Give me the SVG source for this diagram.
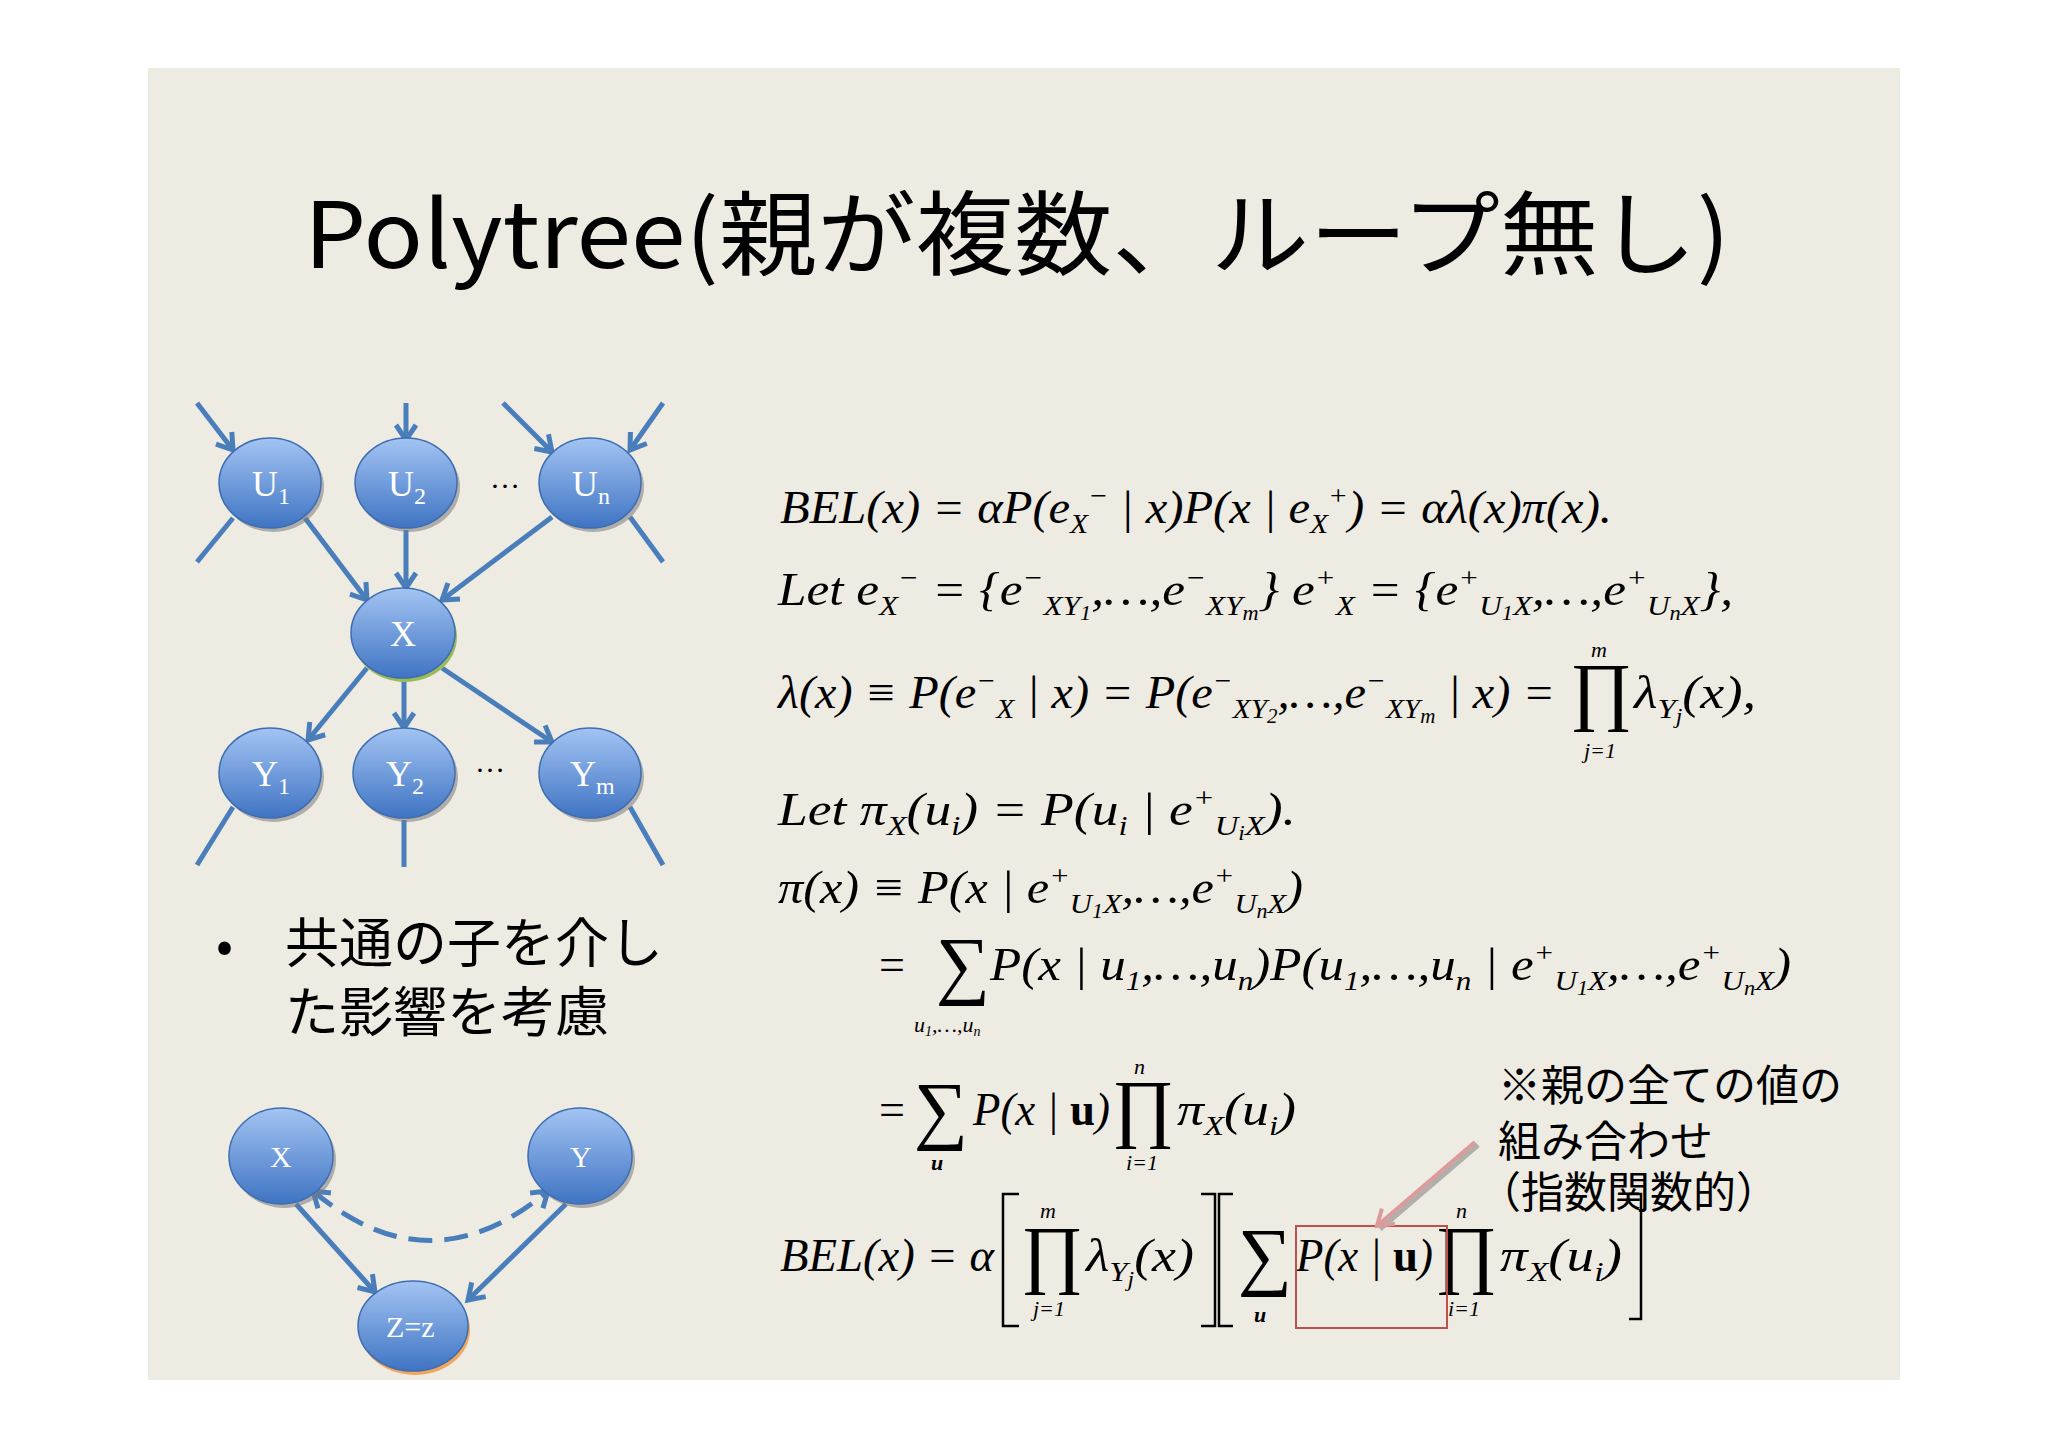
<svg xmlns="http://www.w3.org/2000/svg" width="2048" height="1448" viewBox="0 0 2048 1448">
<defs>
<linearGradient id="ng" x1="0" y1="0" x2="0" y2="1"><stop offset="0" stop-color="#a3c4f3"/><stop offset="1" stop-color="#3f74c3"/></linearGradient>
<marker id="ah" markerUnits="userSpaceOnUse" markerWidth="40" markerHeight="40" viewBox="-20 -20 40 40" refX="0" refY="0" orient="auto-start-reverse"><path d="M-15,-10 L0,0 L-15,10" fill="none" stroke="#4a7ebb" stroke-width="5"/></marker>
<marker id="pah" markerUnits="userSpaceOnUse" markerWidth="40" markerHeight="40" viewBox="-20 -20 40 40" refX="0" refY="0" orient="auto"><path d="M-15,-10 L0,0 L-15,10" fill="none" stroke="#dc9a9a" stroke-width="4"/></marker>
<style>
.nd{fill:url(#ng);stroke:#3d6db0;stroke-width:1.5}
.sh{fill:#7a7a7a;opacity:.55}
.nl{font-family:"Liberation Serif",serif;font-size:36px;fill:#fff}
.nl2{font-family:"Liberation Serif",serif;font-size:30px;fill:#fff}
.c{stroke:#4a7ebb;stroke-width:5;fill:none}
.eq{font-family:"Liberation Serif",serif;font-style:italic;font-size:46px;fill:#000}
.up{font-style:normal}
.b{font-style:normal;font-weight:bold}
.s{font-size:28px;baseline-shift:-10px}
.p{font-size:28px;baseline-shift:18px}
.ss{font-size:20px;baseline-shift:-5px}
.big{font-family:"Liberation Serif",serif;font-size:76px;fill:#000}
.lim{font-family:"Liberation Serif",serif;font-style:italic;font-size:22px;fill:#000}
.jp{font-family:"Noto Sans CJK JP",sans-serif;fill:#000}
.br{stroke:#000;stroke-width:2.5;fill:none}
</style>
</defs>
<rect width="2048" height="1448" fill="#fff"/>
<rect x="148" y="68" width="1752" height="1312" fill="#eeebe3"/>
<text class="jp" x="304" y="268" font-size="92" textLength="1426" lengthAdjust="spacingAndGlyphs">Polytree(親が複数、ループ無し)</text>

<g id="connectors">
<line class="c" x1="197" y1="403" x2="233" y2="450" marker-end="url(#ah)"/>
<line class="c" x1="233" y1="518" x2="197" y2="562"/>
<line class="c" x1="406" y1="403" x2="406" y2="440" marker-end="url(#ah)"/>
<line class="c" x1="503" y1="403" x2="552" y2="452" marker-end="url(#ah)"/>
<line class="c" x1="663" y1="403" x2="630" y2="450" marker-end="url(#ah)"/>
<line class="c" x1="630" y1="517" x2="663" y2="562"/>
<line class="c" x1="305" y1="518" x2="367" y2="600" marker-end="url(#ah)"/>
<line class="c" x1="406" y1="530" x2="406" y2="588" marker-end="url(#ah)"/>
<line class="c" x1="552" y1="517" x2="442" y2="600" marker-end="url(#ah)"/>
<line class="c" x1="367" y1="668" x2="308" y2="740" marker-end="url(#ah)"/>
<line class="c" x1="404" y1="680" x2="404" y2="728" marker-end="url(#ah)"/>
<line class="c" x1="442" y1="668" x2="552" y2="742" marker-end="url(#ah)"/>
<line class="c" x1="233" y1="807" x2="197" y2="865"/>
<line class="c" x1="404" y1="820" x2="404" y2="867"/>
<line class="c" x1="630" y1="807" x2="663" y2="865"/>
<line class="c" x1="296" y1="1204" x2="375" y2="1292" marker-end="url(#ah)"/>
<line class="c" x1="566" y1="1204" x2="468" y2="1300" marker-end="url(#ah)"/>
<path class="c" d="M313,1191 Q430,1290 548,1191" stroke-width="6" stroke-dasharray="24 12" marker-start="url(#ah)" marker-end="url(#ah)"/>
</g>

<g id="U1"><ellipse class="sh" cx="273" cy="487" rx="51" ry="45"/><ellipse class="nd" cx="270" cy="483" rx="51" ry="45"/><text class="nl" x="252" y="496">U<tspan font-size="24" dy="8">1</tspan></text></g>
<g id="U2"><ellipse class="sh" cx="409" cy="487" rx="51" ry="45"/><ellipse class="nd" cx="406" cy="483" rx="51" ry="45"/><text class="nl" x="388" y="496">U<tspan font-size="24" dy="8">2</tspan></text></g>
<g id="Un"><ellipse class="sh" cx="593" cy="487" rx="51" ry="45"/><ellipse class="nd" cx="590" cy="483" rx="51" ry="45"/><text class="nl" x="572" y="496">U<tspan font-size="24" dy="8">n</tspan></text></g>
<g id="X"><ellipse cx="405" cy="637" rx="52" ry="45" fill="#9bbb59"/><ellipse class="nd" cx="403" cy="633" rx="52" ry="45"/><text class="nl" x="390" y="646">X</text></g>
<g id="Y1"><ellipse class="sh" cx="273" cy="777" rx="51" ry="45"/><ellipse class="nd" cx="270" cy="773" rx="51" ry="45"/><text class="nl" x="252" y="786">Y<tspan font-size="24" dy="8">1</tspan></text></g>
<g id="Y2"><ellipse class="sh" cx="407" cy="777" rx="51" ry="45"/><ellipse class="nd" cx="404" cy="773" rx="51" ry="45"/><text class="nl" x="386" y="786">Y<tspan font-size="24" dy="8">2</tspan></text></g>
<g id="Ym"><ellipse class="sh" cx="593" cy="777" rx="51" ry="45"/><ellipse class="nd" cx="590" cy="773" rx="51" ry="45"/><text class="nl" x="570" y="786">Y<tspan font-size="24" dy="8">m</tspan></text></g>
<text x="490" y="488" font-family="Liberation Serif" font-size="30">…</text>
<text x="475" y="772" font-family="Liberation Serif" font-size="30">…</text>

<g id="bX"><ellipse class="sh" cx="284" cy="1160" rx="52" ry="48"/><ellipse class="nd" cx="281" cy="1156" rx="52" ry="48"/><text class="nl2" x="270" y="1167">X</text></g>
<g id="bY"><ellipse class="sh" cx="583" cy="1160" rx="52" ry="48"/><ellipse class="nd" cx="580" cy="1156" rx="52" ry="48"/><text class="nl2" x="570" y="1167">Y</text></g>
<g id="Z"><ellipse cx="415" cy="1330" rx="55" ry="45" fill="#f0a860"/><ellipse class="nd" cx="413" cy="1326" rx="55" ry="45"/><text class="nl2" x="386" y="1337">Z=z</text></g>

<text class="jp" x="216" y="963" font-size="50">•</text>
<text class="jp" x="285" y="963" font-size="54">共通の子を介し</text>
<text class="jp" x="285" y="1032" font-size="54">た影響を考慮</text>

<!-- equations -->
<text class="eq" x="780" y="523" textLength="832" lengthAdjust="spacingAndGlyphs">BEL(x) = αP(e<tspan class="s">X</tspan><tspan class="p">−</tspan> | x)P(x | e<tspan class="s">X</tspan><tspan class="p">+</tspan>) = αλ(x)π(x).</text>
<text class="eq" x="778" y="605" textLength="955" lengthAdjust="spacingAndGlyphs">Let e<tspan class="s">X</tspan><tspan class="p">−</tspan> = {e<tspan class="p">−</tspan><tspan class="s">XY<tspan class="ss">1</tspan></tspan>,…,e<tspan class="p">−</tspan><tspan class="s">XY<tspan class="ss">m</tspan></tspan>}     e<tspan class="p">+</tspan><tspan class="s">X</tspan> = {e<tspan class="p">+</tspan><tspan class="s">U<tspan class="ss">1</tspan>X</tspan>,…,e<tspan class="p">+</tspan><tspan class="s">U<tspan class="ss">n</tspan>X</tspan>},</text>
<text class="eq" x="778" y="708" textLength="777" lengthAdjust="spacingAndGlyphs">λ(x) ≡ P(e<tspan class="p">−</tspan><tspan class="s">X</tspan> | x) = P(e<tspan class="p">−</tspan><tspan class="s">XY<tspan class="ss">2</tspan></tspan>,…,e<tspan class="p">−</tspan><tspan class="s">XY<tspan class="ss">m</tspan></tspan> | x) =</text>
<text class="big" x="1570" y="716">∏</text>
<text class="lim" x="1591" y="657">m</text>
<text class="lim" x="1584" y="758">j=1</text>
<text class="eq" x="1634" y="708" textLength="122" lengthAdjust="spacingAndGlyphs">λ<tspan class="s">Y<tspan class="ss">j</tspan></tspan>(x),</text>

<text class="eq" x="778" y="825" textLength="518" lengthAdjust="spacingAndGlyphs">Let    π<tspan class="s">X</tspan>(u<tspan class="s">i</tspan>) = P(u<tspan class="s">i</tspan> | e<tspan class="p">+</tspan><tspan class="s">U<tspan class="ss">i</tspan>X</tspan>).</text>
<text class="eq" x="778" y="903" textLength="525" lengthAdjust="spacingAndGlyphs">π(x) ≡ P(x | e<tspan class="p">+</tspan><tspan class="s">U<tspan class="ss">1</tspan>X</tspan>,…,e<tspan class="p">+</tspan><tspan class="s">U<tspan class="ss">n</tspan>X</tspan>)</text>

<text class="eq up" x="879" y="980">=</text>
<text class="big" x="936" y="990">∑</text>
<text class="lim" x="914" y="1032" font-size="20">u<tspan font-size="14" dy="4">1</tspan><tspan dy="-4">,…,u</tspan><tspan font-size="14" dy="4">n</tspan></text>
<text class="eq" x="990" y="980" textLength="801" lengthAdjust="spacingAndGlyphs">P(x | u<tspan class="s">1</tspan>,…,u<tspan class="s">n</tspan>)P(u<tspan class="s">1</tspan>,…,u<tspan class="s">n</tspan> | e<tspan class="p">+</tspan><tspan class="s">U<tspan class="ss">1</tspan>X</tspan>,…,e<tspan class="p">+</tspan><tspan class="s">U<tspan class="ss">n</tspan>X</tspan>)</text>

<text class="eq up" x="879" y="1125">=</text>
<text class="big" x="914" y="1135">∑</text>
<text class="lim b" x="931" y="1170">u</text>
<text class="eq" x="973" y="1125" textLength="137" lengthAdjust="spacingAndGlyphs">P(x | <tspan class="b">u</tspan>)</text>
<text class="big" x="1112" y="1133">∏</text>
<text class="lim" x="1134" y="1074">n</text>
<text class="lim" x="1126" y="1170">i=1</text>
<text class="eq" x="1177" y="1125" textLength="119" lengthAdjust="spacingAndGlyphs">π<tspan class="s">X</tspan>(u<tspan class="s">i</tspan>)</text>

<text class="eq" x="780" y="1271" textLength="214" lengthAdjust="spacingAndGlyphs">BEL(x) = α</text>
<path class="br" d="M1019,1194 H1003 V1326 H1019"/>
<text class="big" x="1021" y="1279">∏</text>
<text class="lim" x="1040" y="1218">m</text>
<text class="lim" x="1033" y="1316">j=1</text>
<text class="eq" x="1086" y="1271" textLength="108" lengthAdjust="spacingAndGlyphs">λ<tspan class="s">Y<tspan class="ss">j</tspan></tspan>(x)</text>
<path class="br" d="M1201,1194 H1215 V1326 H1201"/>
<path class="br" d="M1233,1194 H1219 V1326 H1233"/>
<text class="big" x="1238" y="1281">∑</text>
<text class="lim b" x="1254" y="1322">u</text>
<text class="eq" x="1296" y="1271" textLength="137" lengthAdjust="spacingAndGlyphs">P(x | <tspan class="b">u</tspan>)</text>
<text class="big" x="1435" y="1279">∏</text>
<text class="lim" x="1456" y="1218">n</text>
<text class="lim" x="1448" y="1316">i=1</text>
<text class="eq" x="1500" y="1271" textLength="122" lengthAdjust="spacingAndGlyphs">π<tspan class="s">X</tspan>(u<tspan class="s">i</tspan>)</text>
<path class="br" d="M1629,1194 H1641 V1319 H1629"/>
<rect x="1296" y="1226" width="151" height="102" fill="none" stroke="#c0504d" stroke-width="2"/>

<line x1="1478" y1="1145" x2="1380" y2="1229" stroke="#888" stroke-width="5" opacity=".6"/>
<line x1="1475" y1="1142" x2="1377" y2="1226" stroke="#dc9a9a" stroke-width="4" marker-end="url(#pah)"/>
<text class="jp" x="1498" y="1101" font-size="43">※親の全ての値の</text>
<text class="jp" x="1498" y="1157" font-size="43">組み合わせ</text>
<text class="jp" x="1478" y="1208" font-size="43">（指数関数的）</text>
</svg>
